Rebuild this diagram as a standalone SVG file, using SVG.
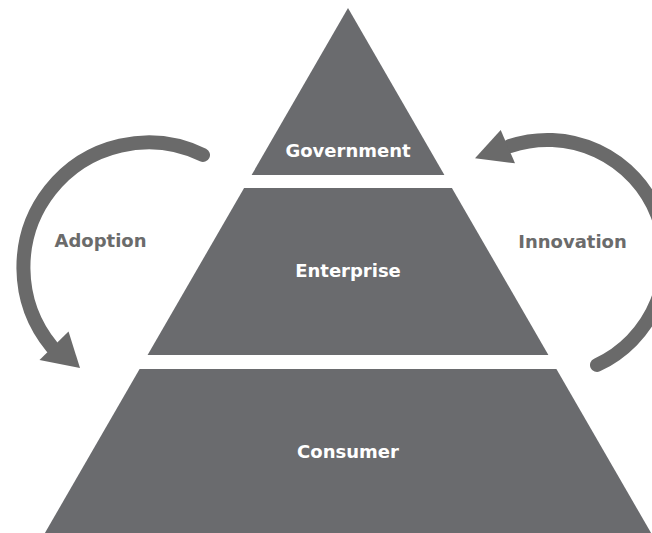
<svg xmlns="http://www.w3.org/2000/svg" width="652" height="533" viewBox="0 0 652 533">
  <style>
    .tier { fill: #6a6b6e; }
    .tlabel { font-family: "DejaVu Sans", Verdana, sans-serif; font-weight: bold; font-size: 18px; fill: #ffffff; text-anchor: middle; }
    .alabel { font-family: "DejaVu Sans", Verdana, sans-serif; font-weight: bold; font-size: 18px; fill: #6b6b6b; text-anchor: middle; }
    .shaft { fill: none; stroke: #6a6a6a; stroke-width: 14; }
    .head { fill: #6a6a6a; }
  </style>
  <rect x="0" y="0" width="652" height="533" fill="#ffffff"/>
  <g id="government">
    <polygon class="tier" points="348,8 444.4,175 251.6,175"/>
    <text class="tlabel" x="348" y="157">Government</text>
  </g>
  <g id="enterprise">
    <polygon class="tier" points="244.1,188 451.9,188 548.4,355 147.6,355"/>
    <text class="tlabel" x="348" y="277">Enterprise</text>
  </g>
  <g id="consumer">
    <polygon class="tier" points="139.6,369 556.4,369 651.1,533 44.9,533"/>
    <text class="tlabel" x="348" y="458">Consumer</text>
  </g>
  <g id="connectors">
    <g id="adoption">
      <path class="shaft" d="M 203 155 A 125 125 0 0 0 52 347" stroke-linecap="round"/>
      <polygon class="head" points="80,368 39.5,360 68.5,331.5"/>
      <text class="alabel" x="100.5" y="247">Adoption</text>
    </g>
    <g id="innovation">
      <path class="shaft" d="M 597 365 A 118 118 0 0 0 510 146" stroke-linecap="round"/>
      <polygon class="head" points="475,158.3 500.7,130 515,163.3"/>
      <text class="alabel" x="572.5" y="248">Innovation</text>
    </g>
  </g>
</svg>
